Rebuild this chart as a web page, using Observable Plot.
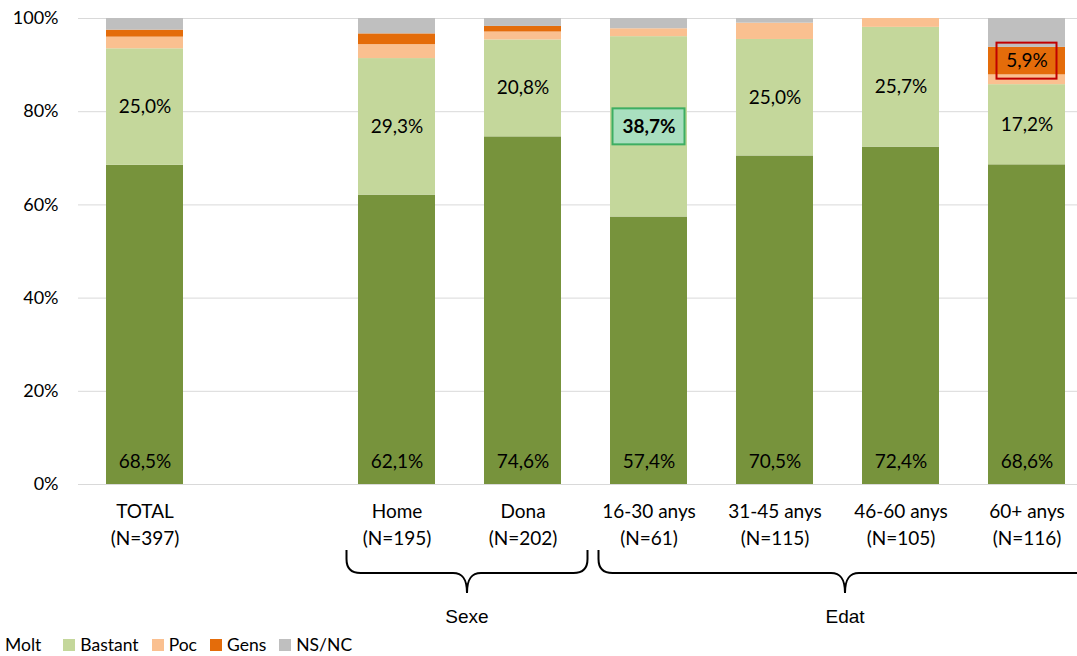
<!DOCTYPE html>
<html><head><meta charset="utf-8">
<script src="https://cdn.jsdelivr.net/npm/d3@7"></script>
<script src="https://cdn.jsdelivr.net/npm/@observablehq/plot@0.6"></script>
<style>
body{margin:0;background:#fff;font-family:Lato,sans-serif;}
#chart{position:relative;width:1077px;height:656px;overflow:hidden;background:#fff;}
#legend{position:absolute;left:5px;top:635px;height:20px;display:flex;align-items:center;font-size:17.5px;line-height:20px;color:#000;white-space:nowrap;}
.sw{display:inline-block;width:12px;height:12px;margin-right:5px;}
.item{display:flex;align-items:center;margin-right:13px;}
</style></head><body><div id="chart"><div id="legend"></div></div>
<script>
const categories = ["TOTAL", "", "Home", "Dona", "16-30 anys", "31-45 anys", "46-60 anys", "60+ anys"];
const nLabels = ["(N=397)", "", "(N=195)", "(N=202)", "(N=61)", "(N=115)", "(N=105)", "(N=116)"];
const seriesNames = ["Molt", "Bastant", "Poc", "Gens", "NS/NC"];
const seriesColors = ["#77933C", "#C4D79B", "#FAC090", "#E46C0A", "#BFBFBF"];
const molt    = [68.5, null, 62.1, 74.6, 57.4, 70.5, 72.4, 68.6];
const bastant = [25.0, null, 29.3, 20.8, 38.7, 25.0, 25.7, 17.2];
const poc     = [2.5,  null, 3.0,  1.7,  1.7,  3.5,  1.9,  2.1];
const gens    = [1.5,  null, 2.3,  1.2,  0,    0,    0,    5.9];
const nsnc    = [2.5,  null, 3.3,  1.7,  2.2,  1.0,  0,    6.2];
const yTicks = [0, 20, 40, 60, 80, 100];
const labelledGens = ["60+ anys"];
const highlights = [
  {cat: "16-30 anys", series: "Bastant", w: 72, h: 36, fill: "#A9DFBF", stroke: "#3DAE62", bold: true},
  {cat: "60+ anys", series: "Gens", w: 60, h: 36, fill: "none", stroke: "#C00000", bold: false}
];
const groups = [
  {name: "Sexe", from: "Home", to: "Dona"},
  {name: "Edat", from: "16-30 anys", to: "60+ anys"}
];

const seriesValues = [molt, bastant, poc, gens, nsnc];
const fmt = v => v.toFixed(1).replace(".", ",") + "%";

const rows = [];
categories.forEach((cat, i) => {
  if (cat === "") return;
  let acc = 0;
  seriesNames.forEach((s, j) => {
    const v = seriesValues[j][i];
    rows.push({cat, series: s, value: v, y1: acc, y2: acc + v, mid: acc + v / 2});
    acc += v;
  });
});
const isBold = r => highlights.some(h => h.bold && h.cat === r.cat && h.series === r.series);
const moltRows = rows.filter(r => r.series === "Molt");
const midRows = rows.filter(r => r.series === "Bastant" || (r.series === "Gens" && labelledGens.includes(r.cat)));
const normalMid = midRows.filter(r => !isBold(r));
const boldMid = midRows.filter(r => isBold(r));

const W = 1077, H = 634, FS = 19;
const plot = Plot.plot({
  width: W, height: H,
  marginLeft: 78, marginRight: 0, marginTop: 18, marginBottom: 150,
  style: {fontFamily: "Lato, sans-serif", fontSize: "18px", color: "#000", background: "transparent"},
  x: {domain: categories, range: [78, 1093], paddingInner: 0.3875, paddingOuter: 0.19375, axis: null},
  y: {domain: [0, 100], axis: null},
  color: {domain: seriesNames, range: seriesColors},
  marks: [
    Plot.ruleY(yTicks, {stroke: "#D9D9D9", strokeWidth: 1}),
    Plot.barY(rows, {x: "cat", y1: "y1", y2: "y2", fill: "series"}),
    Plot.axisY(yTicks, {tickSize: 0, tickPadding: 20, tickFormat: d => d + "%", fontSize: 18, label: null}),
    Plot.text(moltRows, {x: "cat", y: 0, dy: -23, text: d => fmt(d.value), fill: "#000", fontSize: FS}),
    Plot.text(normalMid, {x: "cat", y: "mid", text: d => fmt(d.value), fill: "#000", fontSize: FS}),
    Plot.text(boldMid, {x: "cat", y: "mid", text: d => fmt(d.value), fill: "#000", fontSize: FS, fontWeight: "bold"}),
    Plot.text(categories, {x: d => d, text: (d, i) => d === "" ? "" : d + "\n" + nLabels[i], frameAnchor: "bottom", lineAnchor: "top", dy: 15, lineHeight: 1.4, fill: "#000", fontSize: FS})
  ]
});

const chart = document.getElementById("chart");
chart.insertBefore(plot, document.getElementById("legend"));

const xs = plot.scale("x"), ys = plot.scale("y");
const svg = d3.select(plot);
const bw = xs.bandwidth;
const cx = c => xs.apply(c) + bw / 2;

// highlight boxes placed right after the bars (under the labels)
const barG = plot.querySelector('g[aria-label="bar"]');
let anchor = barG ? barG.nextSibling : null;
highlights.forEach(h => {
  const r = rows.find(r => r.cat === h.cat && r.series === h.series);
  const x = cx(h.cat), y = ys.apply(r.mid);
  const rect = document.createElementNS("http://www.w3.org/2000/svg", "rect");
  rect.setAttribute("x", x - h.w / 2); rect.setAttribute("y", y - h.h / 2);
  rect.setAttribute("width", h.w); rect.setAttribute("height", h.h);
  rect.setAttribute("fill", h.fill); rect.setAttribute("stroke", h.stroke); rect.setAttribute("stroke-width", 2);
  if (anchor) plot.insertBefore(rect, anchor); else plot.insertBefore(rect, plot.firstChild);
});

// group braces
const yT = 550, yH = 573, yB = 593;
groups.forEach(gr => {
  const xL = cx(gr.from) - 50, xR = cx(gr.to) + 65, xm = (xL + xR) / 2;
  const p = `M${xL},${yT} L${xL},${yH - 14} Q${xL},${yH} ${xL + 14},${yH} L${xm - 14},${yH} C${xm - 5},${yH} ${xm},${yH + 5} ${xm},${yB}` +
            ` M${xm},${yB} C${xm},${yH + 5} ${xm + 5},${yH} ${xm + 14},${yH} L${xR - 14},${yH} Q${xR},${yH} ${xR},${yH - 14} L${xR},${yT}`;
  svg.append("path").attr("d", p).attr("fill", "none").attr("stroke", "#000").attr("stroke-width", 2);
  svg.append("text").attr("x", xm).attr("y", 616).attr("dy", "0.35em").attr("text-anchor", "middle")
    .attr("font-family", "Liberation Sans, Arial, sans-serif").attr("font-size", 19).attr("fill", "#000").text(gr.name);
});

// legend
const legend = document.getElementById("legend");
seriesNames.forEach((s, j) => {
  const it = document.createElement("span");
  it.className = "item";
  if (j === 0) { it.style.marginRight = "22px"; }
  else {
    const sw = document.createElement("span");
    sw.className = "sw"; sw.style.background = seriesColors[j];
    it.appendChild(sw);
  }
  it.appendChild(document.createTextNode(s));
  legend.appendChild(it);
});
</script></body></html>
